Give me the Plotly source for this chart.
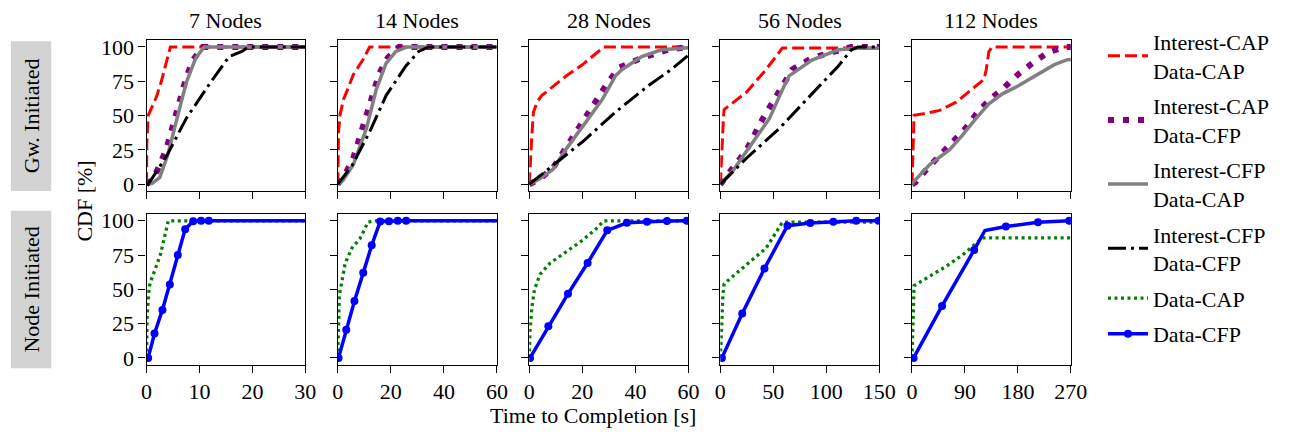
import plotly.graph_objects as go

W, H = 1291, 438
FONT = "Liberation Serif, DejaVu Serif, serif"

# ---------------- data ----------------
NODES = ["7 Nodes", "14 Nodes", "28 Nodes", "56 Nodes", "112 Nodes"]
X_MAX = [30, 60, 60, 150, 270]
X_TICKS = [[0, 10, 20, 30], [0, 20, 40, 60], [0, 20, 40, 60], [0, 50, 100, 150], [0, 90, 180, 270]]
Y_TICKS = [0, 25, 50, 75, 100]

# Gateway initiated: Interest-CAP / Data-CAP
ICAP_DCAP_T = [
    [0, 0.05, 0.3, 1.9, 2.8, 4.5, 30],
    [0, 0.3, 0.8, 2.2, 3.5, 5.9, 9.6, 12, 60],
    [0, 0.5, 1.0, 1.6, 3, 4.7, 14, 20, 25.1, 28.1, 60],
    [0, 1.5, 3.1, 3.6, 24.7, 43.2, 58.7, 150],
    [0, 2.7, 3.5, 19.4, 47.2, 75.1, 102.9, 122.4, 126.3, 130.7, 136.3, 270],
]
ICAP_DCAP_V = [
    [0, 30, 50, 64, 75, 100, 100],
    [0, 38, 50, 62, 68, 80, 91, 100, 100],
    [0, 20, 36, 52.6, 60, 64.6, 79, 87, 95.5, 100, 100],
    [0, 30, 50.3, 54.5, 67, 83.6, 99.3, 99.3],
    [0, 30, 50.3, 51.4, 53.8, 59.8, 69.3, 76.4, 83.6, 96.7, 100, 100],
]

# Interest-CAP / Data-CFP
ICAP_DCFP_T = [
    [0, 1, 2, 3.73, 4.67, 5.6, 6.7, 7.5, 8.8, 10.6, 30],
    [0, 3, 5.9, 9, 13.3, 15.7, 18.8, 23.1, 60],
    [0, 4, 9, 15.2, 22.6, 28.8, 33.7, 42.4, 52.2, 60],
    [0, 12.4, 24.7, 40.2, 58.7, 68, 86.5, 111.3, 123.7, 150],
    [0, 5.5, 25, 48.4, 70.6, 91.8, 110.7, 132.9, 155.8, 180.8, 204.2, 230.9, 260.5, 270],
]
ICAP_DCFP_V = [
    [0, 3, 10, 25.4, 38.5, 51.5, 64.6, 77.7, 90.7, 100, 100],
    [0, 8, 19.5, 40, 67, 81, 92, 100, 100],
    [0, 4, 12, 31, 52.6, 71.7, 84.8, 92, 97.9, 100],
    [0, 12, 25, 48, 71.7, 83.6, 92, 97.9, 100, 100],
    [0, 1.4, 11, 21.2, 30.7, 41.2, 52.1, 62, 70.2, 80.2, 88, 96, 100, 100],
]

# Interest-CFP / Data-CAP
ICFP_DCAP_T = [
    [0, 1, 2.5, 4.05, 5.6, 7.5, 9.3, 10.9, 30],
    [0, 2, 5.9, 10.8, 14.5, 18.2, 21.9, 26.2, 60],
    [0, 4, 9, 14, 20.1, 27.6, 32.5, 35, 42.4, 49.8, 60],
    [0, 12, 24.7, 46.4, 58.7, 65, 86.5, 111.3, 129.9, 150],
    [0, 2, 30.6, 64, 86.2, 108.5, 130.7, 153, 180.8, 214.2, 242, 264.3, 275],
]
ICFP_DCAP_V = [
    [0, 0.5, 5, 21.9, 45.6, 74, 92, 100, 100],
    [0, 3, 14.5, 40.6, 69, 88, 96.7, 100, 100],
    [0, 4, 11, 26, 42, 62, 79, 83.6, 93, 97.9, 99.5],
    [0, 10, 24, 48, 69, 79, 90.5, 97.9, 99, 99],
    [0, 1.4, 14.6, 25.2, 36, 47.9, 58.6, 65.7, 71.7, 80, 87.1, 90.7, 91],
]

# Interest-CFP / Data-CFP (not measured for 112 nodes)
ICFP_DCFP_T = [
    [0, 0.3, 3.7, 7.5, 12.5, 15.6, 18, 19.3, 30],
    [0, 5.3, 12.1, 18.2, 25.6, 30.5, 34.2, 60],
    [0, 7.8, 20.1, 32.5, 44.8, 53.5, 60, 70],
    [0, 24.7, 55.7, 86.5, 111.3, 123.7, 129.9, 150],
    [],
]
ICFP_DCFP_V = [
    [0, 0, 20, 48, 76.5, 93, 96.7, 100, 100],
    [0, 13.5, 38.5, 64.6, 86, 96.7, 100, 100],
    [0, 12, 31, 52.6, 71.7, 83.6, 94, 100],
    [0, 19, 40.7, 65.7, 86, 97.9, 100, 100],
    [],
]

# Node initiated: Data-CAP
DCAP_T = [
    [0, 0.1, 0.5, 1.0, 2.6, 4.1, 30],
    [0, 0.2, 0.6, 1.4, 2.8, 5.3, 8.4, 11.4, 13.9, 60],
    [0, 0.3, 1, 2, 4.1, 7.8, 14, 20.1, 25.1, 28.1, 60],
    [0, 1.5, 2.5, 3.6, 12.4, 24.7, 43.2, 58.7, 150],
    [0, 2.7, 3.5, 30.6, 58.4, 86.2, 108.5, 119.6, 270],
]
DCAP_V = [
    [0, 30, 52, 58, 75, 100, 100],
    [0, 30, 46, 54, 69, 80, 87, 99, 100, 100],
    [0, 20, 37, 50, 61, 69, 77.5, 85.8, 94, 100, 100],
    [0, 30, 46, 54, 60, 68, 80, 99, 99],
    [0, 30, 52.6, 59.7, 66.9, 75.1, 83.4, 87.5, 87.5],
]

# Node initiated: Data-CFP (last vertex lies beyond the visible axis range)
DCFP_T = [
    [0.3, 1.5, 3.0, 4.4, 5.9, 7.3, 8.8, 10.3, 11.75, 40],
    [0.3, 3.2, 6.3, 9.6, 12.8, 16.0, 19.3, 22.6, 25.8, 80],
    [0.3, 7.2, 14.6, 22.0, 29.4, 36.8, 44.4, 51.9, 59.4, 80],
    [1.5, 20.7, 41.7, 63.4, 85, 106.7, 128.3, 149.4, 200],
    [2.7, 51.1, 105.7, 124, 159.6, 214.2, 267.2, 320],
]
DCFP_V = [
    [0, 17.8, 35, 53.5, 75, 93.9, 99.6, 100, 100, 100],
    [0, 20.6, 41.5, 62, 82.2, 99.5, 99.6, 100, 100, 100],
    [0, 23, 46.7, 69.2, 93, 98.5, 99.3, 99.8, 100, 100],
    [0, 32.4, 65.2, 96.4, 98.4, 99.3, 100, 100, 100],
    [0, 37.9, 78.7, 92.9, 95.8, 98.9, 100, 100],
]
# indices of the vertices that carry a marker
DCFP_MARKED = [
    [0, 1, 2, 3, 4, 5, 6, 7, 8],
    [0, 1, 2, 3, 4, 5, 6, 7, 8],
    [0, 1, 2, 3, 4, 5, 6, 7, 8],
    [0, 1, 2, 3, 4, 5, 6, 7],
    [0, 1, 2, 4, 5, 6],
]

# ---------------- styles ----------------
TOP_SERIES = [
    ("Interest-CAP<br>Data-CAP", ICAP_DCAP_T, ICAP_DCAP_V, dict(color="#ff0000", width=3, dash="12px,5px")),
    ("Interest-CAP<br>Data-CFP", ICAP_DCFP_T, ICAP_DCFP_V, dict(color="#800080", width=6, dash="6px,9px")),
    ("Interest-CFP<br>Data-CAP", ICFP_DCAP_T, ICFP_DCAP_V, dict(color="#808080", width=3.5)),
    ("Interest-CFP<br>Data-CFP", ICFP_DCFP_T, ICFP_DCFP_V, dict(color="#000000", width=3, dash="18px,5px,3px,5px")),
]

# panel geometry (pixels)
COL_X = [(143, 304.5), (337.5, 499.5), (532.3, 694.3), (726.7, 888.3), (921.7, 1083.3)]
ROW_Y = [(36, 191), (214.3, 369)]


def px_x(p):
    return p / W


def px_y(p):
    return 1 - p / H


fig = go.Figure()
layout = {}
legend_seen = set()

for r in range(2):
    for c in range(5):
        idx = r * 5 + c + 1
        xa = "xaxis" if idx == 1 else f"xaxis{idx}"
        ya = "yaxis" if idx == 1 else f"yaxis{idx}"
        axis_common = dict(
            showline=True, linecolor="black", linewidth=1.4, mirror=True,
            ticks="outside", ticklen=7, tickwidth=1.4, tickcolor="black",
            showgrid=False, zeroline=False,
            tickfont=dict(family=FONT, size=22, color="black"),
        )
        layout[xa] = dict(
            axis_common,
            domain=[px_x(COL_X[c][0]), px_x(COL_X[c][1])],
            range=[0, X_MAX[c]], tickvals=X_TICKS[c],
            showticklabels=(r == 1), anchor=f"y{idx}" if idx > 1 else "y",
        )
        layout[ya] = dict(
            axis_common,
            domain=[px_y(ROW_Y[r][1]), px_y(ROW_Y[r][0])],
            range=[-5, 105], tickvals=Y_TICKS,
            showticklabels=(c == 0), anchor=f"x{idx}" if idx > 1 else "x",
        )

xref = lambda idx: "x" if idx == 1 else f"x{idx}"
yref = lambda idx: "y" if idx == 1 else f"y{idx}"

# top row
for c in range(5):
    idx = c + 1
    for name, TT, VV, style in TOP_SERIES:
        if not TT[c]:
            continue
        fig.add_trace(go.Scatter(
            x=TT[c], y=VV[c], mode="lines", name=name, line=style,
            xaxis=xref(idx), yaxis=yref(idx),
            legendgroup=name, showlegend=(name not in legend_seen),
        ))
        legend_seen.add(name)

# bottom row
for c in range(5):
    idx = 5 + c + 1
    fig.add_trace(go.Scatter(
        x=DCAP_T[c], y=DCAP_V[c], mode="lines", name="Data-CAP",
        line=dict(color="#008000", width=3.3, dash="3px,3.5px"),
        xaxis=xref(idx), yaxis=yref(idx),
        legendgroup="Data-CAP", showlegend=(c == 0),
    ))
    fig.add_trace(go.Scatter(
        x=DCFP_T[c], y=DCFP_V[c], mode="lines+markers", name="Data-CFP",
        line=dict(color="#0000ff", width=3.5),
        marker=dict(color="#0000ff", size=8),
        selectedpoints=DCFP_MARKED[c],
        selected=dict(marker=dict(opacity=1)),
        unselected=dict(marker=dict(opacity=0)),
        xaxis=xref(idx), yaxis=yref(idx),
        legendgroup="Data-CFP", showlegend=(c == 0),
    ))

TXT = dict(xref="paper", yref="paper", showarrow=False, xanchor="center", yanchor="middle",
           font=dict(family=FONT, size=22, color="black"))
annotations = []
for c in range(5):
    annotations.append(dict(TXT, text=NODES[c], x=px_x((COL_X[c][0] + COL_X[c][1]) / 2), y=px_y(16)))
annotations.append(dict(TXT, text="Time to Completion [s]", x=px_x(597), y=px_y(421)))
annotations.append(dict(TXT, text="CDF [%]", x=px_x(80), y=px_y(201), textangle=-90))
row_labels = ["Gw. Initiated", "Node Initiated"]
row_boxes = [(37.3, 190.7), (211, 372.7)]
shapes = []
for lbl, (y0, y1) in zip(row_labels, row_boxes):
    shapes.append(dict(
        type="rect", xref="paper", yref="paper",
        x0=px_x(5), x1=px_x(46), y0=px_y(y1), y1=px_y(y0),
        fillcolor="#d3d3d3", line=dict(width=0), layer="below",
    ))
    annotations.append(dict(TXT, text=lbl, x=px_x(25.5), y=px_y((y0 + y1) / 2), textangle=-90))

fig.update_layout(
    **layout,
    width=W, height=H,
    margin=dict(l=0, r=0, t=0, b=0),
    paper_bgcolor="white", plot_bgcolor="white",
    font=dict(family=FONT, size=22, color="black"),
    annotations=annotations, shapes=shapes,
    legend=dict(
        x=px_x(1116), y=px_y(16), xanchor="left", yanchor="top",
        font=dict(family=FONT, size=22, color="black"),
        tracegroupgap=4, itemwidth=40, bgcolor="rgba(0,0,0,0)",
    ),
)

fig.write_html("out.html", config={"displayModeBar": False},
               post_script="document.body.style.margin='0px';")
